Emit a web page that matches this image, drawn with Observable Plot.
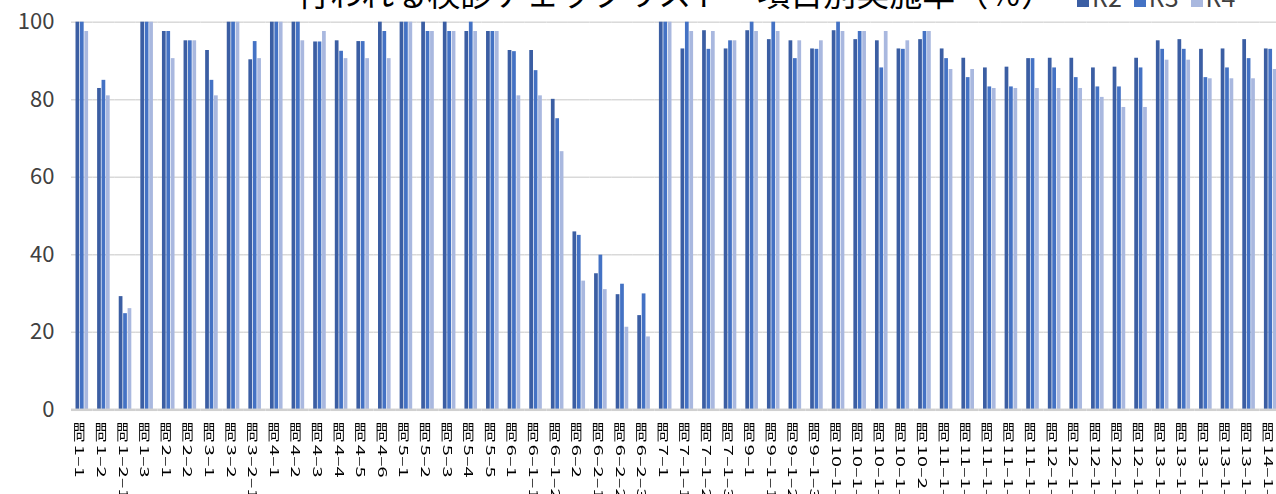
<!DOCTYPE html>
<html><head><meta charset="utf-8">
<script src="https://cdn.jsdelivr.net/npm/d3@7"></script>
<script src="https://cdn.jsdelivr.net/npm/@observablehq/plot@0.6"></script>
<style>
html,body{margin:0;padding:0;background:#fff;overflow:hidden;width:1276px;height:494px}
#wrap{position:relative;width:1281px;height:494px;font-family:"Noto Sans CJK JP","Noto Sans",sans-serif}
#title{position:absolute;z-index:2;top:-24px;left:297px;font-size:33px;line-height:33px;white-space:nowrap;color:#000}
#legend{position:absolute;z-index:2;left:1077px;top:-18px;font-size:25px;line-height:29px;white-space:nowrap;color:#404040}
#legend .item{display:inline-block;margin-right:12px}
#legend .sw{display:inline-block;width:12px;height:12px;margin-right:3px}
#chart{position:absolute;z-index:1;left:0;top:0}
</style></head>
<body><div id="wrap"><div id="chart"></div><div id="title"></div><div id="legend"></div></div>
<script>
const titleText = "行われる検診チェックリスト　項目別実施率（％）";
const categories = [
 "問1-1","問1-2","問1-2-1","問1-3","問2-1","問2-2","問3-1","問3-2","問3-2-1",
 "問4-1","問4-2","問4-3","問4-4","問4-5","問4-6",
 "問5-1","問5-2","問5-3","問5-4","問5-5",
 "問6-1","問6-1-1","問6-1-2","問6-2","問6-2-1","問6-2-2","問6-2-3",
 "問7-1","問7-1-1","問7-1-2","問7-1-3",
 "問9-1","問9-1-1","問9-1-2","問9-1-3",
 "問10-1-1","問10-1-2","問10-1-3","問10-1-4","問10-2",
 "問11-1-1","問11-1-2","問11-1-3","問11-1-4","問11-1-5",
 "問12-1-1","問12-1-2","問12-1-3","問12-1-4","問12-1-5",
 "問13-1-1","問13-1-2","問13-1-3","問13-1-4","問13-1-5",
 "問14-1-1"
];
const seriesNames = ["R2","R3","R4"];
const r2 = [100,82.9,29.2,100,97.6,95.2,92.7,100,90.3,100,100,94.9,95.2,95.0,100,
 100,100,100,97.6,97.6, 92.7,92.7,80.1,45.9,35.1,29.7,24.3, 100,93.1,97.8,93.1,
 97.8,95.5,95.2,93.1, 97.8,95.5,95.2,93.1,95.5, 93.1,90.7,88.2,88.4,90.6,
 90.7,90.7,88.2,88.4,90.7, 95.2,95.5,93.0,93.1,95.5, 93.1];
const r3 = [100,85.0,24.8,100,97.6,95.2,85.0,100,95.0,100,100,94.9,92.5,95.0,97.6,
 100,97.6,97.6,100,97.6, 92.4,87.5,75.1,45.0,39.9,32.4,29.9, 100,100,93.0,95.2,
 100,100,90.6,93.0, 100,97.6,88.2,93.0,97.6, 90.6,85.7,83.3,83.3,90.6,
 88.2,85.7,83.3,83.3,88.2, 93.0,93.0,85.7,88.2,90.6, 93.0];
const r4 = [97.6,81.0,26.1,100,90.6,95.2,81.0,100,90.6,100,95.2,97.6,90.6,90.6,90.6,
 100,97.6,97.6,97.6,97.6, 81.0,81.0,66.6,33.2,31.0,21.3,18.8, 100,97.6,97.6,95.2,
 97.6,97.6,95.2,95.2, 97.6,97.6,97.6,95.2,97.6, 87.8,87.8,82.9,82.9,82.9,
 82.9,82.9,80.6,78.0,78.0, 90.2,90.2,85.4,85.4,85.4, 87.8];
const yTicks = [0,20,40,60,80,100];
const colors = ["#3b5ea3","#4472c4","#a9b8df"];

const rows = categories.flatMap((c,i)=>[
  {cat:c,s:"R2",v:r2[i]},{cat:c,s:"R3",v:r3[i]},{cat:c,s:"R4",v:r4[i]}]);

document.getElementById("title").textContent = titleText;
document.getElementById("legend").innerHTML = seriesNames.map((s,i)=>
  `<span class="item"><span class="sw" style="background:${colors[i]}"></span>${s}</span>`).join("");

// label display: vertical writing; the dash is drawn as a longer en dash
const labelTail = d => d.slice(1).replace(/-/g, "–");

const chart = Plot.plot({
  width: 1281, height: 540,
  marginLeft: 71, marginRight: 0, marginTop: 21.7, marginBottom: 130.7,
  fx: {domain: categories, padding: 0, axis: null, round: false},
  x: {domain: seriesNames, paddingInner: 0, paddingOuter: 0.94, axis: null, round: false},
  y: {domain: [0,100], ticks: yTicks, tickSize: 0, tickPadding: 17, label: null},
  color: {domain: seriesNames, range: colors},
  style: {fontFamily: '"Noto Sans CJK JP","Noto Sans",sans-serif', fontSize: "22px", color: "#404040", background: "#fff"},
  marks: [
    Plot.ruleY(yTicks.filter(t => t > 0), {stroke: "#d9d9d9", strokeWidth: 1.5}),
    Plot.barY(rows, {fx: "cat", x: "s", y: "v", fill: "s", insetLeft: 0.35, insetRight: 0.35}),
    Plot.ruleY([0], {stroke: "#d0d0d0", strokeWidth: 2.5}),
    Plot.text(categories, {fx: d => d, text: d => d.slice(0, 1), frameAnchor: "bottom", dy: 16, dx: -3,
      textAnchor: "middle", lineAnchor: "top", fontSize: 20, fill: "#000"}),
    Plot.text(categories, {fx: d => d, text: labelTail, frameAnchor: "bottom", dy: 35, dx: -3,
      rotate: 90, textAnchor: "start", lineAnchor: "middle", fontSize: 20, fill: "#000"})
  ]
});
// narrow the label glyphs horizontally (as in the reference's condensed labels)
chart.querySelectorAll('g[aria-label="text"] text').forEach(t => {
  const tr = t.getAttribute("transform") || "";
  t.setAttribute("transform", tr + (tr.includes("rotate") ? " scale(1,0.62)" : " scale(0.62,1)"));
});
// render the label glyphs in plain gray antialiasing (no colour fringes)
const defs = d3.select(chart).insert("defs", ":first-child");
defs.append("filter").attr("id", "gray-aa")
  .append("feColorMatrix").attr("type", "saturate").attr("values", 0);
chart.querySelectorAll('g[aria-label="text"]').forEach(g => g.setAttribute("filter", "url(#gray-aa)"));
document.getElementById("chart").appendChild(chart);
</script></body></html>
